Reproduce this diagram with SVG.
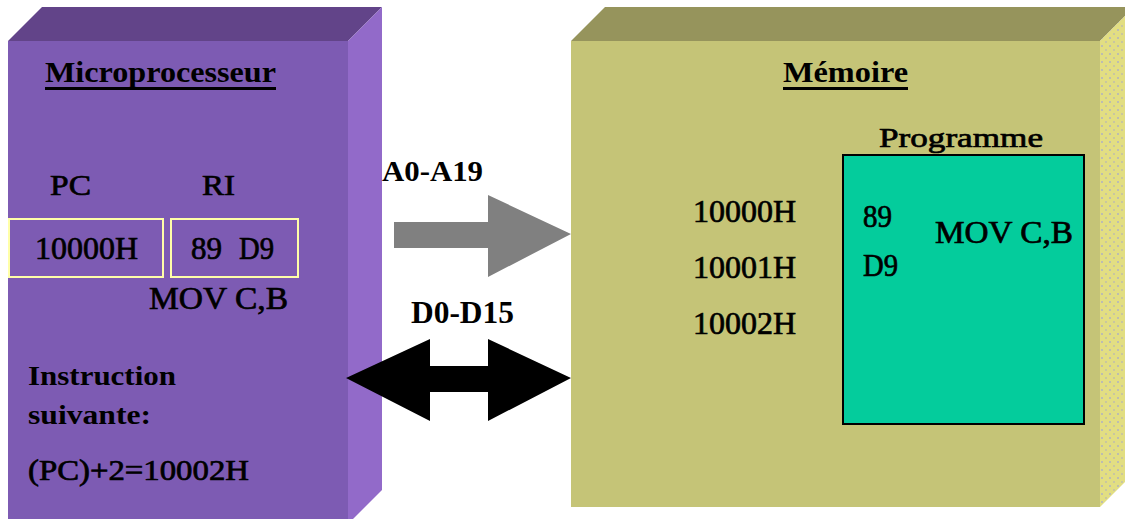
<svg xmlns="http://www.w3.org/2000/svg" width="1125" height="519" viewBox="0 0 1125 519">
  <defs>
    <pattern id="dots" width="8" height="8" patternUnits="userSpaceOnUse">
      <rect width="8" height="8" fill="#E2DE82"/>
      <rect x="1" y="1" width="2" height="2" fill="#C9C6A0"/>
      <rect x="5" y="5" width="2" height="2" fill="#BDBDB0"/>
    </pattern>
  </defs>
  <style>
    .t { font-family: "Liberation Serif", "Times New Roman", serif; fill: #000; }
    .b { font-weight: bold; }
    .r { stroke: #000; stroke-width: 0.7; }
    .reg { fill: none; stroke: #FFFFA8; stroke-width: 2; }
  </style>
  <rect width="1125" height="519" fill="#FFFFFF"/>

  <!-- Microprocessor block -->
  <g id="microprocesseur">
    <polygon points="8,41 42,7 382,7 348,41" fill="#624489"/>
    <polygon points="348,41 382,7 382,490 348,524" fill="#926AC9"/>
    <rect x="8" y="41" width="340" height="485" fill="#7D5BB3"/>
    <text class="t b" x="45" y="82" font-size="30" textLength="231" lengthAdjust="spacingAndGlyphs">Microprocesseur</text>
    <rect x="45" y="87" width="231" height="3" fill="#000"/>
  </g>

  <g id="pc">
    <text class="t r" x="50" y="195" font-size="30" textLength="41" lengthAdjust="spacingAndGlyphs">PC</text>
    <rect class="reg" x="9" y="219" width="154" height="58"/>
    <text class="t r" x="35" y="259" font-size="32" textLength="103" lengthAdjust="spacingAndGlyphs">10000H</text>
  </g>

  <g id="ri">
    <text class="t r" x="202" y="195" font-size="30" textLength="33" lengthAdjust="spacingAndGlyphs">RI</text>
    <rect class="reg" x="171" y="219" width="127" height="58"/>
    <text class="t r" x="191" y="259" font-size="32" textLength="31" lengthAdjust="spacingAndGlyphs">89</text>
    <text class="t r" x="239" y="259" font-size="32" textLength="35" lengthAdjust="spacingAndGlyphs">D9</text>
    <text class="t r" x="149" y="309" font-size="32" textLength="139" lengthAdjust="spacingAndGlyphs">MOV C,B</text>
  </g>

  <g id="instruction-suivante">
    <text class="t b" x="28" y="385" font-size="28" textLength="148" lengthAdjust="spacingAndGlyphs">Instruction</text>
    <text class="t b" x="28" y="424" font-size="28" textLength="123" lengthAdjust="spacingAndGlyphs">suivante:</text>
    <text class="t r" x="28" y="480" font-size="29" textLength="221" lengthAdjust="spacingAndGlyphs">(PC)+2=10002H</text>
  </g>

  <!-- Memory block -->
  <g id="memoire">
    <polygon points="571,41 605,7 1134,7 1100,41" fill="#96945C"/>
    <polygon points="1100,41 1134,7 1134,473 1100,507" fill="url(#dots)"/>
    <rect x="571" y="41" width="529" height="466" fill="#C5C477"/>
    <text class="t b" x="783" y="82" font-size="30" textLength="125" lengthAdjust="spacingAndGlyphs">Mémoire</text>
    <rect x="783" y="87" width="125" height="3" fill="#000"/>
    <text class="t r" x="693" y="222" font-size="32" textLength="103" lengthAdjust="spacingAndGlyphs">10000H</text>
    <text class="t r" x="693" y="278" font-size="32" textLength="103" lengthAdjust="spacingAndGlyphs">10001H</text>
    <text class="t r" x="693" y="334" font-size="32" textLength="103" lengthAdjust="spacingAndGlyphs">10002H</text>
  </g>

  <g id="programme">
    <text class="t r" x="879" y="147" font-size="28" textLength="164" lengthAdjust="spacingAndGlyphs">Programme</text>
    <rect x="843" y="155" width="241" height="269" fill="#04CC9C" stroke="#000" stroke-width="2"/>
    <text class="t r" x="863" y="227" font-size="32" textLength="29" lengthAdjust="spacingAndGlyphs">89</text>
    <text class="t r" x="863" y="276" font-size="32" textLength="35" lengthAdjust="spacingAndGlyphs">D9</text>
    <text class="t r" x="935" y="243" font-size="32" textLength="138" lengthAdjust="spacingAndGlyphs">MOV C,B</text>
  </g>

  <!-- Buses -->
  <g id="connectors">
    <text class="t b" x="382" y="181" font-size="30" textLength="101" lengthAdjust="spacingAndGlyphs">A0-A19</text>
    <polygon points="394,222 488,222 488,195 571,234 488,277 488,248 394,248" fill="#808080"/>
    <text class="t b" x="411" y="323" font-size="31" textLength="103" lengthAdjust="spacingAndGlyphs">D0-D15</text>
    <polygon points="346,378 430,339 430,366 488,366 488,339 571,378 488,421 488,392 430,392 430,421" fill="#000"/>
  </g>
</svg>
